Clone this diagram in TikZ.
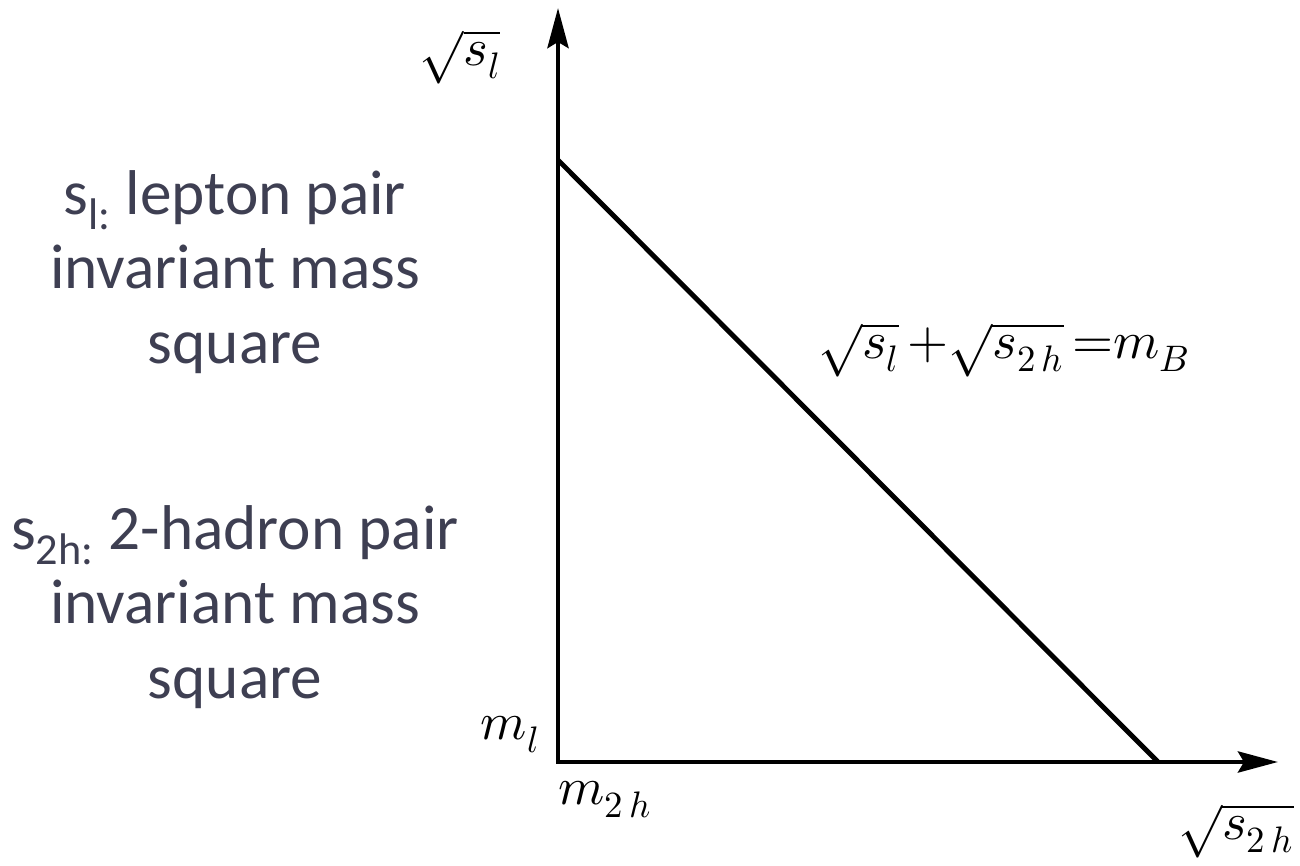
\documentclass[tikz,border=0pt]{standalone}
\usepackage{fontspec}
\usepackage{unicode-math}
\setmainfont{Carlito}
\usetikzlibrary{arrows.meta}
\definecolor{slate}{RGB}{62,63,82}

\begin{document}
\begin{tikzpicture}[x=0.02cm, y=0.02cm]
\tikzstyle{axis}=[line width=2.8pt, {Stealth[length=8mm, width=4.2mm, inset=1.2mm]}-{Stealth[length=8mm, width=4.2mm, inset=1.2mm]}]
\tikzstyle{bound}=[line width=2.8pt]
\tikzstyle{note}=[align=center, text=slate, font=\fontsize{36}{42.5}\selectfont]
\tikzstyle{lbl}=[inner sep=0pt, font=\fontsize{30}{36}\selectfont]
\useasboundingbox (0,0) rectangle (1300,865);
% axes
\coordinate (origin) at (558,103);
\coordinate (ytip) at (558,857);
\coordinate (xtip) at (1278,103);
\coordinate (ymax) at (558,705);
\coordinate (xmax) at (1158,103);
\draw[axis] (ytip) -- (origin) -- (xtip);
\draw[bound] (ymax) -- (xmax);
% labels
\node[lbl] (sl) at (460,808) {$\sqrt{s_l}$};
\node[lbl] (ml) at (510,130) {$m_l$};
\node[lbl] (mh) at (605,65) {$m_{2\,h}$};
\node[lbl, anchor=east] (sh) at (1294,34) {$\sqrt{s_{2\,h}}$};
\node[lbl] (edge) at (1004,515) {$\sqrt{s_l}\,{+}\sqrt{s_{2\,h}}\,{=}m_B$};
% side notes
\node[note] (lep) at (235,593) {s\textsubscript{l:} lepton pair\\invariant mass\\square};
\node[note] (had) at (235,258) {s\textsubscript{2h:} 2-hadron pair\\invariant mass\\square};
\end{tikzpicture}
\end{document}
